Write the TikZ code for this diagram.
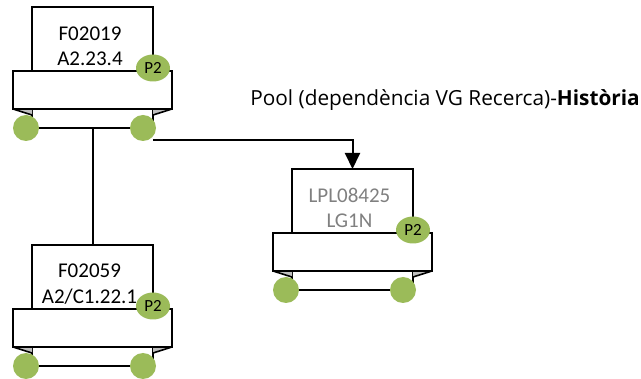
\documentclass[tikz,border=0pt]{standalone}
\usepackage{fontspec}
\setmainfont{Carlito}
\newfontfamily\labelfont{Open Sans}
\usetikzlibrary{arrows.meta,calc,shapes.geometric}
\definecolor{pgreen}{RGB}{155,187,89}
\definecolor{ptri}{RGB}{191,191,191}
\definecolor{ptext}{RGB}{128,128,128}
\tikzset{
  outl/.style={draw=black,line width=1.6pt},
  conn/.style={draw=black,line width=2pt},
  dot/.style={circle,fill=pgreen,minimum size=26pt,inner sep=0pt},
  ptag/.style={ellipse,fill=pgreen,minimum width=34pt,minimum height=27pt,inner sep=0pt,font=\fontsize{17}{18}\selectfont},
  papertext/.style={align=center,font=\fontsize{21}{25.5}\selectfont,inner sep=0pt},
  pics/printer/.style={code={
    \draw[outl,fill=white] (0,102) rectangle (121,121);
    \fill[ptri] (-19,102) -- (0,102) -- (0,108) -- cycle;
    \fill[ptri] (121,102) -- (140,102) -- (121,108) -- cycle;
    \draw[outl] (-19,102) -- (0,108);
    \draw[outl] (140,102) -- (121,108);
    \draw[outl,fill=white] (0,0) rectangle (121,64);
    \draw[outl,fill=white] (-19,64) rectangle (140,102);
    \node[dot] (-cl) at (-6,121) {};
    \node[dot] (-cr) at (111,121) {};
    \node[ptag] (-tag) at (121,61) {P2};
    \coordinate (-top) at (60.5,0);
    \coordinate (-bot) at (60.5,121);
    \coordinate (-out) at (121,133);
  }}
}
\begin{document}
\begin{tikzpicture}[x=1pt,y=-1pt]
  \useasboundingbox (0,0) rectangle (641,379);
  \pic (top) at (32,7) {printer};
  \pic (bot) at (32,245) {printer};
  \pic (lpl) at (292,169) {printer};
  \node[papertext] (toptext) at (90,46.5) {F02019\\A2.23.4};
  \node[papertext] (bottext) at (89.5,284) {F02059\\A2/C1.22.1};
  \node[papertext,text=ptext] (lpltext) at (349.5,208) {LPL08425\\LG1N};
  \node[anchor=base east,inner sep=0pt,font=\labelfont\fontsize{20.8}{24}\selectfont] (pool) at (640,106) {Pool (dependència VG Recerca)-\textbf{Història}};
  \draw[conn] (top-bot) -- (bot-top);
  \draw[conn,-{Triangle[width=15pt,length=16pt]}] (top-out) -| (lpl-top);
\end{tikzpicture}
\end{document}
